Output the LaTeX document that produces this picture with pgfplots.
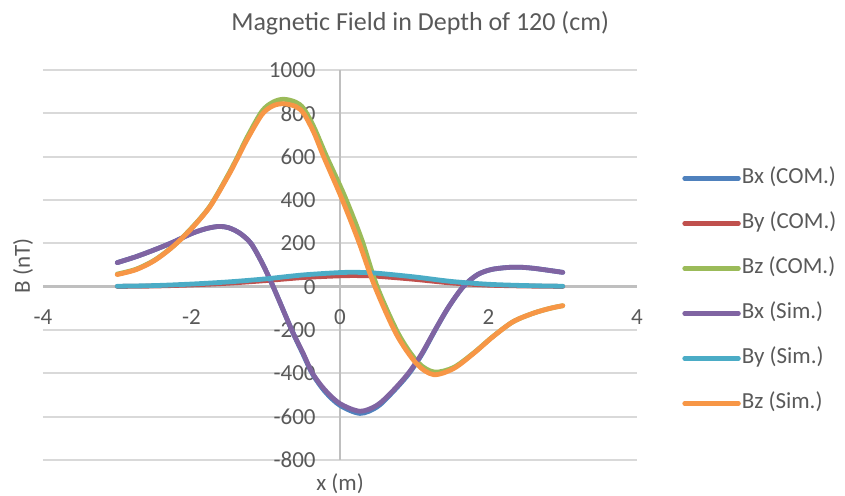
\documentclass[border=0pt]{standalone}
\usepackage{fontspec}
\setmainfont{Carlito}
\usepackage{pgfplots}
\pgfplotsset{compat=1.18}

\definecolor{bxcom}{HTML}{4F81BD}
\definecolor{bycom}{HTML}{C0504D}
\definecolor{bzcom}{HTML}{9BBB59}
\definecolor{bxsim}{HTML}{8064A2}
\definecolor{bysim}{HTML}{4BACC6}
\definecolor{bzsim}{HTML}{F79646}
\definecolor{txt}{HTML}{595959}
\definecolor{gridc}{HTML}{D9D9D9}
\definecolor{axc}{HTML}{BFBFBF}

\begin{document}
\begin{tikzpicture}
\useasboundingbox (-21.5pt,-18pt) rectangle (401pt,230pt);
\begin{axis}[
    width=297pt, height=195pt,
    scale only axis,
    xmin=-4, xmax=4, ymin=-800, ymax=1000,
    xtick={-4,-2,0,2,4},
    ytick={-800,-600,-400,-200,0,200,400,600,800,1000},
    axis lines=middle,
    axis line style={-, draw=axc, line width=1.2pt},
    hide obscured x ticks=false,
    hide obscured y ticks=false,
    major tick length=0pt,
    ymajorgrids,
    grid style={draw=gridc, line width=1pt},
    /pgf/number format/assume math mode=true,
    /pgf/number format/1000 sep={},
    tick label style={font=\fontsize{11.5}{13}\selectfont, text=txt, inner sep=0pt},
    xticklabel style={anchor=north, yshift=-11.5pt},
    yticklabel style={anchor=east, xshift=-12pt},
    title={Magnetic Field in Depth of 120 (cm)},
    title style={at={(axis description cs:0.635,1)}, anchor=center, yshift=17.5pt,
        font=\fontsize{13}{15}\selectfont, text=txt},
    xlabel={x (m)},
    xlabel style={at={(axis description cs:0.5,0)}, anchor=center, yshift=-12pt,
        font=\fontsize{11.5}{13}\selectfont, text=txt},
    ylabel={B (nT)},
    ylabel style={at={(axis description cs:0,0.497)}, xshift=-10pt, rotate=90, anchor=center,
        font=\fontsize{11.5}{13}\selectfont, text=txt},
    legend style={at={(axis description cs:1.0656,0.7615)}, anchor=north west,
        draw=none, fill=none, font=\fontsize{11.5}{13}\selectfont, text=txt,
        row sep=11.5pt, column sep=0.5pt,
        nodes={inner sep=0pt, text height=8pt, text depth=3pt}},
    legend cell align=left,
    legend image code/.code={\draw[#1, line width=2.2pt, line cap=round] (0pt,0pt) -- (27pt,0pt);},
    every axis plot/.append style={line width=2.4pt, line cap=round, line join=round, smooth, tension=0.5, mark=none},
]
% Bx (COM.)
\addplot[bxcom] coordinates {
(-3.0,111) (-2.75,138) (-2.5,170) (-2.25,205) (-2.0,245) (-1.8,268) (-1.63,278)
(-1.5,272) (-1.35,247) (-1.2,200) (-1.05,110) (-0.9,0) (-0.65,-200) (-0.5,-310)
(-0.37,-403) (-0.2,-485) (0.0,-548) (0.27,-585) (0.5,-555) (0.7,-490) (0.92,-405)
(1.1,-314) (1.28,-202) (1.46,-96) (1.66,0) (1.85,55) (2.05,80) (2.34,90) (2.6,85) (3.0,66)};
% By (COM.)
\addplot[bycom] coordinates {
(-3.0,1) (-2.5,3) (-2.0,8) (-1.5,16) (-1.0,28) (-0.5,42) (0.0,50) (0.25,51)
(0.5,48) (1.0,34) (1.5,17) (2.0,7) (2.5,3) (3.0,1)};
% Bz (COM.)
\addplot[bzcom] coordinates {
(-3.0,58) (-2.75,80) (-2.5,122) (-2.25,186) (-2.0,270) (-1.75,372) (-1.5,520)
(-1.37,606) (-1.25,690) (-1.05,810) (-0.9,852) (-0.76,865) (-0.6,852) (-0.49,822)
(-0.35,735) (-0.18,600) (0.06,420) (0.29,220) (0.5,0) (0.79,-220) (1.05,-350)
(1.27,-394) (1.53,-373) (1.8,-306) (2.06,-230) (2.33,-162) (2.6,-123) (2.83,-100) (3.0,-88)};
% Bx (Sim.)
\addplot[bxsim] coordinates {
(-3.0,111) (-2.75,138) (-2.5,170) (-2.25,205) (-2.0,245) (-1.8,268) (-1.63,278)
(-1.5,272) (-1.35,247) (-1.2,200) (-1.05,110) (-0.9,0) (-0.65,-200) (-0.5,-305)
(-0.37,-400) (-0.2,-478) (0.0,-540) (0.27,-575) (0.5,-547) (0.7,-485) (0.92,-400)
(1.1,-310) (1.28,-200) (1.46,-95) (1.66,0) (1.85,55) (2.05,80) (2.34,90) (2.6,85) (3.0,66)};
% By (Sim.)
\addplot[bysim] coordinates {
(-3.0,2) (-2.5,5) (-2.0,12) (-1.5,22) (-1.0,36) (-0.5,54) (0.0,65) (0.25,66)
(0.5,62) (1.0,45) (1.5,24) (2.0,11) (2.5,5) (3.0,2)};
% Bz (Sim.)
\addplot[bzsim] coordinates {
(-3.0,56) (-2.75,78) (-2.5,120) (-2.25,185) (-2.0,268) (-1.75,370) (-1.5,515)
(-1.37,600) (-1.25,680) (-1.05,795) (-0.9,835) (-0.76,844) (-0.6,832) (-0.49,800)
(-0.35,710) (-0.22,600) (0.02,410) (0.25,210) (0.47,0) (0.76,-220) (1.03,-355)
(1.26,-406) (1.53,-378) (1.8,-308) (2.06,-231) (2.33,-162) (2.6,-123) (2.83,-100) (3.0,-88)};
\legend{Bx (COM.),By (COM.),Bz (COM.),Bx (Sim.),By (Sim.),Bz (Sim.)}
\end{axis}
\end{tikzpicture}
\end{document}
